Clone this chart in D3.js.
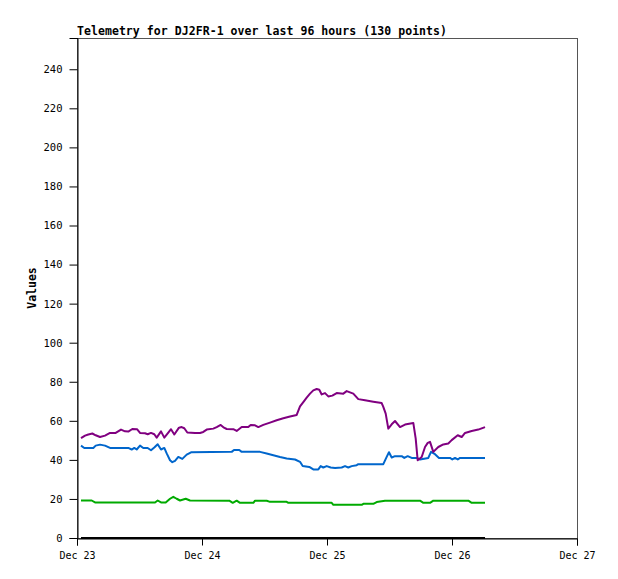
<!DOCTYPE html>
<html>
<head>
<meta charset="utf-8">
<script src="https://cdn.jsdelivr.net/npm/d3@7"></script>
<style>
  body { margin: 0; background: #fff; }
  text { font-family: "DejaVu Sans Mono", monospace; }
</style>
</head>
<body>
<div id="chart"></div>
<script>
// hours since Dec 23 00:00, value
const purpleSeries = [
  [0.77, 51.1], [1.54, 52.4], [2.17, 53], [2.94, 53.5], [3.59, 52.6], [4.42, 51.7],
  [5.38, 52.4], [6.34, 53.8], [7.43, 53.8], [8.45, 55.5], [9.22, 54.6], [9.85, 54.5],
  [10.62, 55.8], [11.52, 55.7], [12.1, 53.8], [13.06, 53.6], [13.57, 53.1], [14.21, 53.8],
  [14.84, 53.1], [15.3, 51.4], [16.13, 54.6], [16.76, 51.4], [17.53, 54], [18.05, 55.7],
  [18.68, 53], [19.58, 56.5], [20.1, 56.8], [20.6, 56.2], [21.18, 54], [22.66, 53.8],
  [23.62, 53.8], [24.25, 54.3], [24.9, 55.5], [26.17, 56], [26.82, 56.8], [27.59, 57.9],
  [28.22, 56.5], [28.74, 55.8], [30.01, 55.7], [30.66, 54.8], [31.62, 56.8], [32.89, 56.8],
  [33.35, 57.9], [34.18, 57.7], [34.81, 56.8], [35.77, 57.9], [37.06, 59.1], [38.34, 60.3],
  [39.61, 61.3], [40.9, 62.2], [42.18, 63], [42.82, 67.4], [43.45, 69.6], [44.1, 71.9],
  [44.74, 73.9], [45.37, 75.6], [46.02, 76.3], [46.52, 75.9], [46.98, 73.5], [47.62, 74.2],
  [48.25, 72.5], [49.02, 72.9], [49.86, 74.2], [51.13, 73.9], [51.78, 75.2], [53.05, 73.9],
  [54.01, 71.1], [55.3, 70.5], [56.89, 69.8], [58.5, 69.1], [58.81, 67.1], [59.27, 63.7],
  [59.77, 56], [60.42, 58.2], [61.06, 59.9], [62.02, 56.8], [62.98, 58.1], [64.57, 58.9],
  [65.03, 50.9], [65.41, 39.8], [66.18, 41.5], [66.82, 46.6], [67.34, 48.7], [67.78, 49.2],
  [68.41, 44.1], [69.37, 46.6], [70.33, 47.9], [71.29, 48.4], [71.94, 50.1], [73.1, 52.6],
  [73.86, 51.7], [74.5, 53.8], [75.78, 54.8], [77.05, 55.5], [78.34, 56.8]
];

const blueSeries = [
  [0.77, 47.3], [1.4, 46.1], [3.13, 46.1], [3.59, 47.3], [4.42, 47.8], [5.38, 47.3],
  [6.34, 46.1], [9.85, 46.1], [10.5, 45.3], [11, 46.1], [11.46, 45.3], [12.1, 47.3],
  [12.73, 46.1], [13.57, 46.1], [14.21, 44.9], [14.84, 46.3], [15.49, 48], [16.13, 45.3],
  [16.76, 46.1], [17.22, 43.3], [17.86, 39.8], [18.3, 38.8], [18.82, 39.5], [19.45, 41.5],
  [20.22, 40.5], [21.06, 42.7], [21.89, 43.9], [29.7, 44.1], [30.14, 45.1], [31.16, 45.1],
  [31.62, 44.1], [35.14, 44.1], [36.42, 43.3], [37.69, 42.4], [38.98, 41.5], [40.26, 40.7],
  [41.86, 40.2], [42.82, 39], [43.33, 36.9], [44.6, 36.4], [45.37, 35.1], [46.33, 35.1],
  [46.79, 36.8], [47.29, 36.1], [47.94, 36.8], [48.71, 36.1], [49.54, 35.8], [50.82, 36.1],
  [51.46, 36.8], [52.09, 36.1], [52.74, 36.8], [53.7, 37.3], [54.01, 37.8], [58.81, 37.8],
  [59.46, 41.5], [59.9, 43.9], [60.42, 41.2], [61.06, 41.9], [62.34, 41.9], [62.84, 41],
  [63.49, 41.9], [64.26, 41], [65.22, 41], [65.86, 40.2], [67.45, 41], [67.97, 44.1],
  [68.74, 42.9], [69.5, 41], [71.62, 41], [72.06, 40.2], [72.58, 41], [73.1, 40.2],
  [73.54, 41], [78.34, 41]
];

const greenSeries = [
  [0.77, 19.2], [2.82, 19.2], [3.46, 18.2], [14.98, 18.2], [15.49, 19.2], [16.13, 18.2],
  [17.03, 18.2], [17.86, 20.1], [18.49, 21.1], [19.14, 20.1], [19.78, 19.2], [20.87, 20.1],
  [21.7, 19.2], [29.24, 19.1], [29.9, 18], [30.66, 19.1], [31.3, 18], [33.86, 18],
  [34.18, 19.1], [36.42, 19.1], [37.06, 18.5], [40.26, 18.5], [40.58, 18], [48.9, 18],
  [49.22, 17], [54.66, 17], [54.98, 17.5], [56.89, 17.5], [57.54, 18.4], [59.14, 19.1],
  [65.86, 19.1], [66.5, 18], [67.78, 18], [68.41, 19.1], [75.14, 19.1], [75.78, 18],
  [78.34, 18]
];

const blackSeries = [[0.77, 0], [78.34, 0]];

const yTicks = [0, 20, 40, 60, 80, 100, 120, 140, 160, 180, 200, 220, 240];
const xTickHours = [0, 24, 48, 72, 96];
const xTickLabels = ["Dec 23", "Dec 24", "Dec 25", "Dec 26", "Dec 27"];

const titleText = "Telemetry for DJ2FR-1 over last 96 hours (130 points)";

const PURPLE = "#800080";
const BLUE = "#0066cc";
const GREEN = "#00aa00";
const BLACK = "#000";

var margin = {top: 38, right: 41, bottom: 41, left: 77};
var width = 618 - margin.left - margin.right;
var height = 579 - margin.top - margin.bottom;

var svg = d3.select("#chart")
  .append("svg")
  .attr("width", 618)
  .attr("height", 579)
  .append("g")
  .attr("transform", "translate(" + margin.left + "," + margin.top + ")");

var x = d3.scaleLinear().domain([0, 96]).range([0, width]);
var y = d3.scaleLinear().domain([0, 256]).range([height, 0]);

// frame
svg.append("rect")
  .attr("x", 0.5).attr("y", 0.5)
  .attr("width", width).attr("height", height)
  .attr("fill", "none")
  .attr("stroke", "#555")
  .attr("stroke-width", 1);

// Y axis
var yAxis = svg.append("g")
  .attr("transform", "translate(0.5,0)")
  .call(d3.axisLeft(y).tickValues(yTicks).tickSize(8).tickPadding(7));
yAxis.select(".domain").attr("stroke", "#000");
yAxis.selectAll("text")
  .style("font-size", "10.5px")
  .style("font-family", "DejaVu Sans Mono");

// X axis
var xAxis = svg.append("g")
  .attr("transform", "translate(0," + (height + 0.5) + ")")
  .call(d3.axisBottom(x).tickValues(xTickHours).tickSize(7).tickPadding(6)
    .tickFormat(function(d, i) { return xTickLabels[i]; }));
xAxis.select(".domain").attr("stroke", "#000");
xAxis.selectAll("text")
  .style("font-size", "10px")
  .style("font-family", "DejaVu Sans Mono");

var line = d3.line()
  .x(function(d) { return x(d[0]); })
  .y(function(d) { return y(d[1]); });

[[greenSeries, GREEN], [blueSeries, BLUE], [purpleSeries, PURPLE], [blackSeries, BLACK]]
  .forEach(function(s) {
    svg.append("path")
      .datum(s[0])
      .attr("fill", "none")
      .attr("stroke", s[1])
      .attr("stroke-width", 2)
      .attr("stroke-linejoin", "round")
      .attr("d", line);
  });

// title
svg.append("text")
  .attr("x", 0)
  .attr("y", -3)
  .attr("textLength", 370)
  .attr("lengthAdjust", "spacing")
  .style("font-size", "11.5px")
  .style("font-weight", "bold")
  .text(titleText);

// y label
svg.append("g")
  .attr("transform", "translate(" + (-41) + "," + 250 + ")")
  .append("text")
  .attr("text-anchor", "middle")
  .attr("transform", "rotate(-90)")
  .style("font-size", "11.5px")
  .style("font-weight", "bold")
  .text("Values");
</script>
</body>
</html>
